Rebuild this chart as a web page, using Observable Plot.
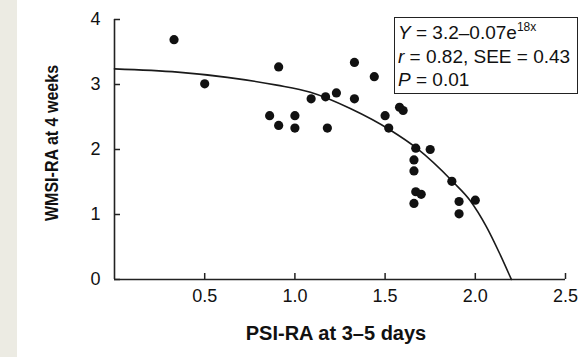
<!DOCTYPE html>
<html>
<head>
<meta charset="utf-8">
<script src="https://cdn.jsdelivr.net/npm/d3@7"></script>
<script src="https://cdn.jsdelivr.net/npm/@observablehq/plot@0.6"></script>
<style>
  html, body { margin: 0; padding: 0; background: #ffffff; }
  #wrap { position: relative; width: 580px; height: 357px; overflow: hidden; font-family: "Liberation Sans", Arial, sans-serif; color: #111; }
  #strip { position: absolute; left: 0; top: 0; width: 17px; height: 357px; background: #ecebe3; }
  #chart { position: absolute; left: 0; top: 0; }
  .ylab { position: absolute; left: 52px; top: 143px; transform: translate(-50%, -50%) rotate(-90deg) scaleX(0.89); white-space: nowrap; font-weight: bold; font-size: 18px; }
  .xlab { position: absolute; left: 336px; top: 333px; transform: translate(-50%, -50%); white-space: nowrap; font-weight: bold; font-size: 20px; }
  #box { position: absolute; left: 394px; top: 17px; width: 179px; height: 72px; border: 1.6px solid #222; background: #fff; padding: 3px 0 0 3px; box-sizing: content-box; font-size: 19px; line-height: 23.5px; white-space: nowrap; }
  #box sup { font-size: 12px; line-height: 0; vertical-align: 0; position: relative; top: -8px; }
</style>
</head>
<body>
<div id="wrap">
  <div id="strip"></div>
  <div id="chart"></div>
  <div class="ylab">WMSI-RA at 4 weeks</div>
  <div class="xlab">PSI-RA at 3–5 days</div>
  <div id="box">
    <div><i>Y</i> = 3.2–0.07e<sup>18x</sup></div>
    <div><i>r</i> = 0.82, SEE = 0.43</div>
    <div><i>P</i> = 0.01</div>
  </div>
</div>
<script>
// Observed points
const psiRA  = [0.33, 0.50, 0.91, 1.33, 1.44, 1.09, 1.17, 1.23, 1.33, 1.58, 1.60, 0.86, 0.91, 1.00, 1.00, 1.18, 1.50, 1.52, 1.67, 1.75, 1.66, 1.66, 1.67, 1.70, 1.66, 1.87, 1.91, 2.00, 1.91];
const wmsiRA = [3.69, 3.01, 3.27, 3.34, 3.12, 2.78, 2.81, 2.87, 2.78, 2.65, 2.60, 2.52, 2.37, 2.52, 2.33, 2.33, 2.52, 2.33, 2.02, 2.00, 1.84, 1.67, 1.35, 1.31, 1.17, 1.51, 1.20, 1.22, 1.01];

// Fitted curve
const fitX = [0, 0.35, 0.625, 0.90, 1.086, 1.307, 1.528, 1.675, 1.877, 1.97, 2.062, 2.135, 2.20];
const fitY = [3.24, 3.19, 3.11, 2.99, 2.88, 2.63, 2.30, 2.02, 1.50, 1.22, 0.81, 0.40, 0.00];

// Ticks
const xTicks = [0.5, 1.0, 1.5, 2.0, 2.5];
const yTicks = [0, 1, 2, 3, 4];

const points = psiRA.map((x, i) => ({x, y: wmsiRA[i]}));
const fit = fitX.map((x, i) => ({x, y: fitY[i]}));

const W = 580, H = 357, mL = 114, mR = 15, mT = 19, mB = 78;
const plotW = W - mL - mR, plotH = H - mT - mB;

const chart = Plot.plot({
  width: W, height: H,
  marginLeft: mL, marginRight: mR, marginTop: mT, marginBottom: mB,
  x: {domain: [0, 2.5]},
  y: {domain: [0, 4]},
  style: {background: "transparent", fontFamily: "'Liberation Sans', Arial, sans-serif", color: "#111"},
  marks: [
    Plot.ruleX([0], {stroke: "#222", strokeWidth: 1.6}),
    Plot.ruleY([0], {stroke: "#222", strokeWidth: 1.6}),
    Plot.tickX(xTicks, {x: d => d, insetTop: plotH - 6, stroke: "#222", strokeWidth: 1.5}),
    Plot.tickY(yTicks, {y: d => d, insetRight: plotW - 6, stroke: "#222", strokeWidth: 1.5}),
    Plot.axisX({ticks: xTicks, tickSize: 0, tickPadding: 10, fontSize: 18, tickFormat: d3.format(".1f"), label: null}),
    Plot.axisY({ticks: yTicks, tickSize: 0, tickPadding: 14, fontSize: 18, tickFormat: d3.format("d"), label: null}),
    Plot.line(fit, {x: "x", y: "y", curve: "monotone-x", stroke: "#1a1a1a", strokeWidth: 1.6}),
    Plot.dot(points, {x: "x", y: "y", r: 4.6, fill: "#111", stroke: "none"})
  ]
});
document.getElementById("chart").appendChild(chart);
</script>
</body>
</html>
